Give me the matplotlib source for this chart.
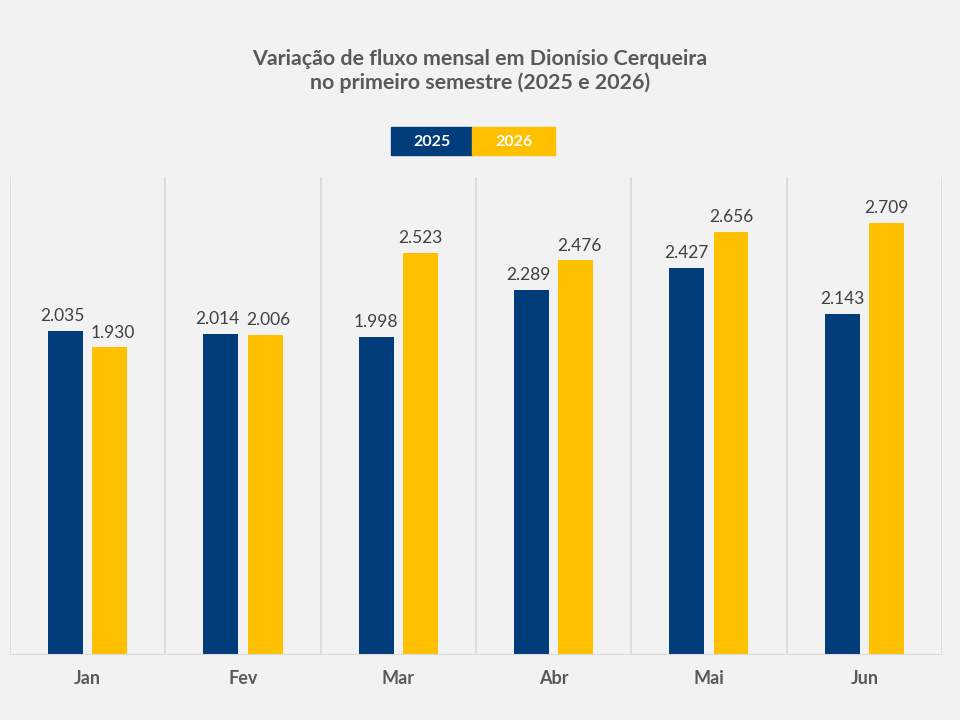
import matplotlib.pyplot as plt
from matplotlib.patches import Rectangle
import numpy as np

months = ['Jan', 'Fev', 'Mar', 'Abr', 'Mai', 'Jun']
v2025 = [2035, 2014, 1998, 2289, 2427, 2143]
v2026 = [1930, 2006, 2523, 2476, 2656, 2709]

blue = '#003d7a'
gold = '#ffc000'
bg = '#f2f2f2'

plt.rcParams['font.family'] = ['Lato', 'DejaVu Sans']

fig = plt.figure(figsize=(9.6, 7.2), dpi=100, facecolor=bg)
ax = fig.add_axes([0.0104, 0.0903, 0.9708, 0.6639])
ax.set_facecolor(bg)

x = np.arange(len(months))
w = 0.225
off = 0.142
b1 = ax.bar(x - off, v2025, w, color=blue)
b2 = ax.bar(x + off, v2026, w, color=gold)

def fmt(v):
    return f'{v:,}'.replace(',', '.')

# labels of close bars get pushed apart a bit, like excel does
for i in range(len(months)):
    push = 2.5 if abs(v2025[i] - v2026[i]) < 200 else 0
    for r, v, sgn in [(b1[i], v2025[i], -1), (b2[i], v2026[i], 1)]:
        ax.annotate(fmt(v), (r.get_x() + r.get_width() / 2, v), xytext=(sgn * push, 5),
                    textcoords='offset points', ha='center', va='bottom',
                    fontsize=12.5, color='#404040')

ax.set_xlim(-0.5, len(months) - 0.5)
ax.set_ylim(0, 3000)
for b in np.arange(-0.5, len(months), 1):
    ax.axvline(b, color='#d9d9d9', lw=1.2, zorder=0)
for s in ax.spines.values():
    s.set_visible(False)
ax.axhline(0, color='#d9d9d9', lw=1.5, zorder=3)
ax.set_yticks([])
ax.set_xticks(x)
ax.set_xticklabels(months, fontsize=13, fontweight='bold', color='#595959')
ax.tick_params(axis='x', length=0, pad=11)

fig.text(0.5, 0.902, 'Variação de fluxo mensal em Dionísio Cerqueira\nno primeiro semestre (2025 e 2026)',
         ha='center', va='center', fontsize=15.4, fontweight='bold', color='#595959',
         linespacing=1.2)

# legend boxes
for x0, x1, col, lab in [(391, 472, blue, '2025'), (472, 555, gold, '2026')]:
    fig.add_artist(Rectangle((x0 / 960, 1 - 155 / 720), (x1 - x0) / 960, 28 / 720,
                             transform=fig.transFigure, color=col))
    fig.text((x0 + x1) / 2 / 960, 1 - 142 / 720, lab, ha='center', va='center',
             fontsize=11.5, fontweight='bold', color='white')

fig.savefig('out.png', dpi=100, facecolor=bg)
